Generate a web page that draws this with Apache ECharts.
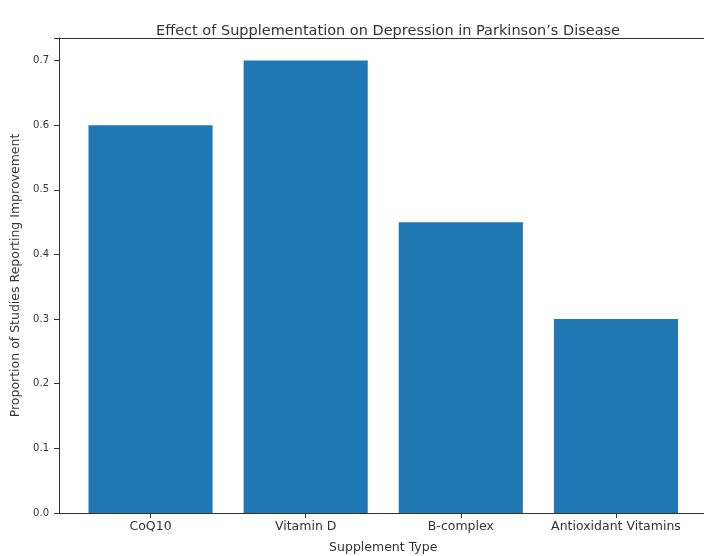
<!DOCTYPE html>
<html><head><meta charset="utf-8">
<script src="https://cdn.jsdelivr.net/npm/echarts@6/dist/echarts.min.js"></script>
<style>html,body{margin:0;padding:0;background:#fff}#c{width:704px;height:556px}</style>
</head><body><div id="c"></div>
<script>
const categories = ["CoQ10", "Vitamin D", "B-complex", "Antioxidant Vitamins"];
const proportions = [0.6, 0.7, 0.45, 0.3];
const yTicks = [0.0, 0.1, 0.2, 0.3, 0.4, 0.5, 0.6, 0.7];

const chart = echarts.init(document.getElementById('c'), null, {renderer: 'canvas'});
const FONT = 'DejaVu Sans';
const AX = '#333';
const TXT = '#333';
const L = 59, T = 38, H = 475;
const xMin = -0.59, xMax = 3.59;
const W = 648.5;
const pxu = W / (xMax - xMin);
const bLeft = L + (-0.5 - xMin) * pxu;
const bWidth = 4 * pxu;

chart.setOption({
  animation: false,
  backgroundColor: '#fff',
  title: {
    text: 'Effect of Supplementation on Depression in Parkinson\u2019s Disease',
    left: 383, top: 19, textAlign: 'center',
    textStyle: {fontFamily: FONT, fontSize: 14.5, fontWeight: 'normal', color: TXT}
  },
  grid: [
    {left: L, top: T, width: W, height: H, containLabel: false, outerBoundsMode: 'none'},
    {left: bLeft, top: T, width: bWidth, height: H, containLabel: false, outerBoundsMode: 'none'}
  ],
  xAxis: [
    {gridIndex: 0, type: 'value', min: xMin, max: xMax,
     axisLine: {show: true, onZero: false, lineStyle: {color: AX, width: 1}},
     axisTick: {show: false}, axisLabel: {show: false}, splitLine: {show: false},
     name: 'Supplement Type', nameLocation: 'middle', nameGap: 28,
     nameTextStyle: {fontFamily: FONT, fontSize: 12.5, color: TXT}},
    {gridIndex: 1, type: 'category', data: categories,
     axisLine: {show: false},
     axisTick: {show: true, alignWithLabel: true, length: 5, lineStyle: {color: AX}},
     axisLabel: {fontFamily: FONT, fontSize: 12.5, color: TXT, margin: 7, interval: 0},
     splitLine: {show: false}},
    {gridIndex: 0, type: 'value', position: 'top', min: xMin, max: xMax,
     axisLine: {show: true, onZero: false, lineStyle: {color: AX, width: 1}},
     axisTick: {show: false}, axisLabel: {show: false}, splitLine: {show: false}}
  ],
  yAxis: [
    {gridIndex: 0, type: 'value', min: 0, max: 0.735, interval: 0.1,
     axisLine: {show: true, onZero: false, lineStyle: {color: AX, width: 1}},
     axisTick: {show: true, length: 5, lineStyle: {color: AX}},
     axisLabel: {fontFamily: FONT, fontSize: 10, color: TXT, margin: 10,
       formatter: v => yTicks.some(t => Math.abs(t - v) < 1e-9) ? v.toFixed(1) : ''},
     splitLine: {show: false},
     name: 'Proportion of Studies Reporting Improvement', nameLocation: 'middle', nameGap: 36,
     nameTextStyle: {fontFamily: FONT, fontSize: 12.5, color: TXT}},
    {gridIndex: 1, type: 'value', min: 0, max: 0.735, show: false}
  ],
  series: [{
    type: 'bar', xAxisIndex: 1, yAxisIndex: 1,
    data: proportions, barWidth: '80%',
    itemStyle: {color: '#1f77b4'}
  }]
});
</script></body></html>
